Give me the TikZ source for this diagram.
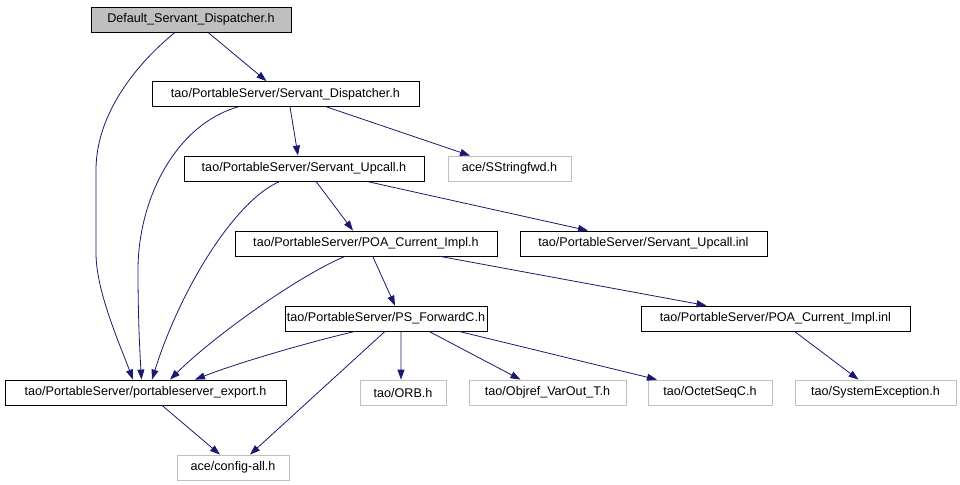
\documentclass[tikz,border=0pt]{standalone}
\usepackage{fontspec}
\setmainfont{Liberation Sans}
\usetikzlibrary{arrows.meta}
\definecolor{edgec}{HTML}{191970}
\definecolor{grayb}{HTML}{BFBFBF}
\begin{document}
\begin{tikzpicture}[x=1bp,y=-1bp,
  box/.style={draw=black,line width=0.8bp,minimum height=25bp,inner sep=0pt,font=\fontsize{12.6bp}{15bp}\selectfont},
  extbox/.style={box,draw=grayb},
  rootbox/.style={box,fill=grayb},
  edge/.style={draw=edgec,line width=0.8bp,-{Triangle[length=10bp,width=7bp]}}]
\useasboundingbox[fill=white] (0,0) rectangle (960,485);
% nodes
\node[rootbox,minimum width=200bp] (A) at (191,19.5) {Default\_Servant\_Dispatcher.h};
\node[box,minimum width=267bp] (B) at (285.5,94) {tao/PortableServer/Servant\_Dispatcher.h};
\node[box,minimum width=240bp] (C) at (304,168.5) {tao/PortableServer/Servant\_Upcall.h};
\node[extbox,minimum width=123bp] (D) at (509.5,168.5) {ace/SStringfwd.h};
\node[box,minimum width=262bp] (E) at (366,243.5) {tao/PortableServer/POA\_Current\_Impl.h};
\node[box,minimum width=247bp] (F) at (643.5,243.5) {tao/PortableServer/Servant\_Upcall.inl};
\node[box,minimum width=202bp] (G) at (386,318.5) {tao/PortableServer/PS\_ForwardC.h};
\node[box,minimum width=269bp] (H) at (775.5,318.5) {tao/PortableServer/POA\_Current\_Impl.inl};
\node[box,minimum width=281bp] (I) at (145.5,392.5) {tao/PortableServer/portableserver\_export.h};
\node[extbox,minimum width=86bp] (J) at (403,392.5) {tao/ORB.h};
\node[extbox,minimum width=157bp] (K) at (547.5,392.5) {tao/Objref\_VarOut\_T.h};
\node[extbox,minimum width=124bp] (L) at (710,392.5) {tao/OctetSeqC.h};
\node[extbox,minimum width=161bp] (M) at (875.5,392.5) {tao/SystemException.h};
\node[extbox,minimum width=112bp] (N) at (233,467.5) {ace/config-all.h};
% edges
\draw[edge] ([xshift=-16bp]A.south) .. controls (135,65) and (96,115) .. (96,170) -- (96,253) .. controls (96,290) and (118,340) .. ([xshift=-12.5bp]I.north);
\draw[edge] ([xshift=17bp]A.south) -- ([xshift=-19bp]B.north);
\draw[edge] ([xshift=-47.5bp]B.south) .. controls (175,125) and (138,200) .. (138,270) .. controls (138,320) and (140,355) .. ([xshift=-4bp]I.north);
\draw[edge] ([xshift=4.5bp]B.south) -- ([xshift=-6bp]C.north);
\draw[edge] ([xshift=41bp]B.south) -- ([xshift=-39.5bp]D.north);
\draw[edge] ([xshift=-24bp]C.south) .. controls (235,200) and (180,290) .. ([xshift=6.5bp]I.north);
\draw[edge] ([xshift=12bp]C.south) -- ([xshift=-13bp]E.north);
\draw[edge] ([xshift=62.7bp]C.south) -- ([xshift=-55.5bp]F.north);
\draw[edge] ([xshift=-21bp]E.south) .. controls (300,275) and (215,335) .. ([xshift=24.5bp]I.north);
\draw[edge] ([xshift=6.7bp]E.south) -- ([xshift=9bp]G.north);
\draw[edge] ([xshift=74bp]E.south) -- ([xshift=-69bp]H.north);
\draw[edge] ([xshift=-31bp]G.south) .. controls (310,342) and (240,362) .. ([xshift=49.5bp]I.north);
\draw[edge] ([xshift=-1bp]G.south) -- ([xshift=17bp]N.north);
\draw[edge] ([xshift=15bp]G.south) -- ([xshift=-2bp]J.north);
\draw[edge] ([xshift=43bp]G.south) -- ([xshift=-27bp]K.north);
\draw[edge] ([xshift=73bp]G.south) -- ([xshift=-53bp]L.north);
\draw[edge] ([xshift=19bp]H.south) -- ([xshift=-17bp]M.north);
\draw[edge] ([xshift=16.5bp]I.south) -- ([xshift=-13bp]N.north);
\end{tikzpicture}
\end{document}
